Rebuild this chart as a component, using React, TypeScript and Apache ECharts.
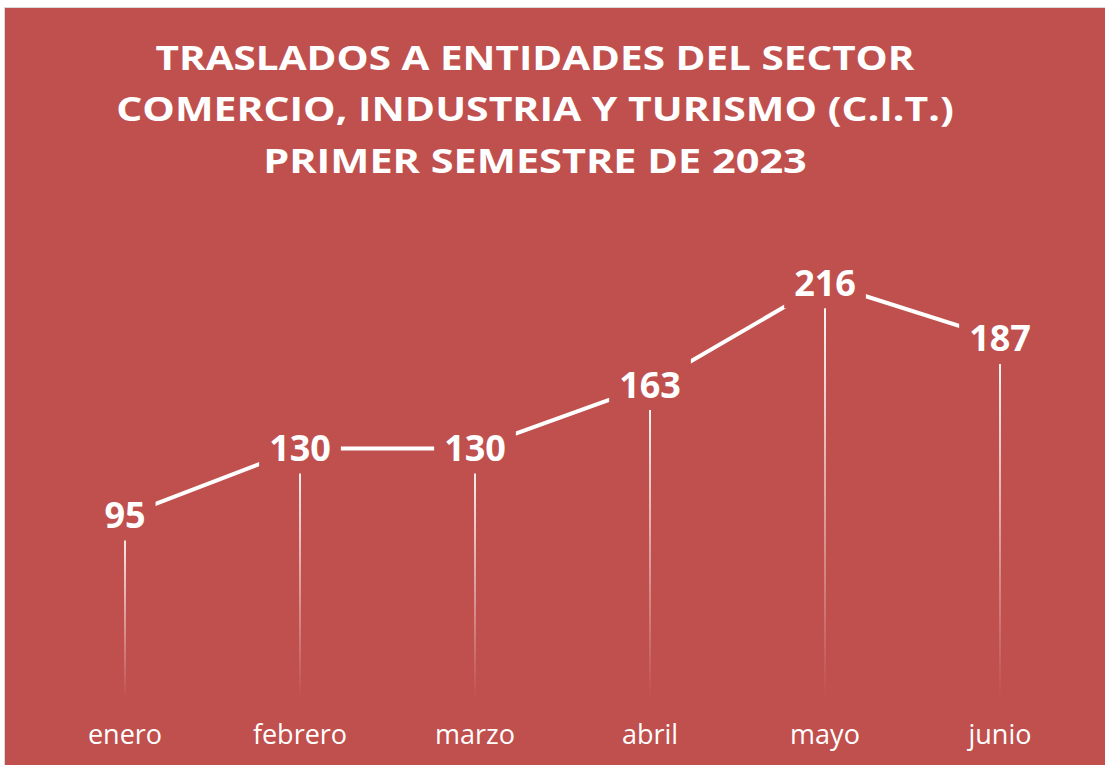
import React, { useEffect, useRef } from "react";
import * as echarts from "echarts";

const titleLines = [
  "TRASLADOS A ENTIDADES DEL SECTOR",
  "COMERCIO, INDUSTRIA Y TURISMO (C.I.T.)",
  "PRIMER SEMESTRE DE 2023",
];
const months = ["enero", "febrero", "marzo", "abril", "mayo", "junio"];
const traslados = [95, 130, 130, 163, 216, 187];

const RED = "#C0504D";

export default function App() {
  const ref = useRef<HTMLDivElement>(null);
  useEffect(() => {
    if (!ref.current) return;
    const chart = echarts.init(ref.current, null, { renderer: "svg" });
    const titleY = [57, 108, 160];
    const titleScale = [1.19, 1.205, 1.22];
    chart.setOption({
      animation: false,
      backgroundColor: "#ffffff",
      graphic: [
        {
          type: "rect",
          z: -10,
          shape: { x: 4.5, y: 7.5, width: 1102, height: 760 },
          style: { fill: RED, stroke: "#D9D9D9", lineWidth: 1 },
        },
        ...titleLines.map((t, i) => ({
          type: "text",
          x: 535,
          y: titleY[i],
          scaleX: titleScale[i],
          style: {
            text: t,
            fill: "#ffffff",
            font: "bold 34px 'Open Sans'",
            textAlign: "center",
            textVerticalAlign: "middle",
          },
        })),
      ],
      grid: { left: 37.5, right: 17.5, top: 218, bottom: 67 },
      xAxis: {
        type: "category",
        data: months,
        boundaryGap: true,
        axisLine: { show: false },
        axisTick: { show: false },
        axisLabel: {
          color: "#ffffff",
          fontFamily: "Open Sans",
          fontSize: 27,
          margin: 22,
        },
      },
      yAxis: {
        type: "value",
        min: 0,
        max: 250,
        show: false,
        splitLine: { show: false },
      },
      series: [
        {
          type: "bar",
          data: traslados,
          barWidth: 2,
          silent: true,
          itemStyle: {
            color: new echarts.graphic.LinearGradient(0, 0, 0, 1, [
              { offset: 0, color: "rgba(255,255,255,1)" },
              { offset: 1, color: "rgba(255,255,255,0)" },
            ]),
          },
        },
        {
          type: "line",
          data: traslados,
          symbol: "circle",
          symbolSize: 1,
          itemStyle: { color: "#ffffff" },
          lineStyle: { color: "#ffffff", width: 4 },
          z: 3,
          label: {
            show: true,
            position: "inside",
            color: "#ffffff",
            fontFamily: "Open Sans",
            fontWeight: "bold",
            fontSize: 36,
            backgroundColor: RED,
            padding: [2, 10, 14, 10],
            offset: [0, -1],
          },
        },
      ],
    });
    return () => chart.dispose();
  }, []);
  return (
    <div
      ref={ref}
      style={{ position: "absolute", left: 0, top: 0, width: 1105, height: 765 }}
    />
  );
}
